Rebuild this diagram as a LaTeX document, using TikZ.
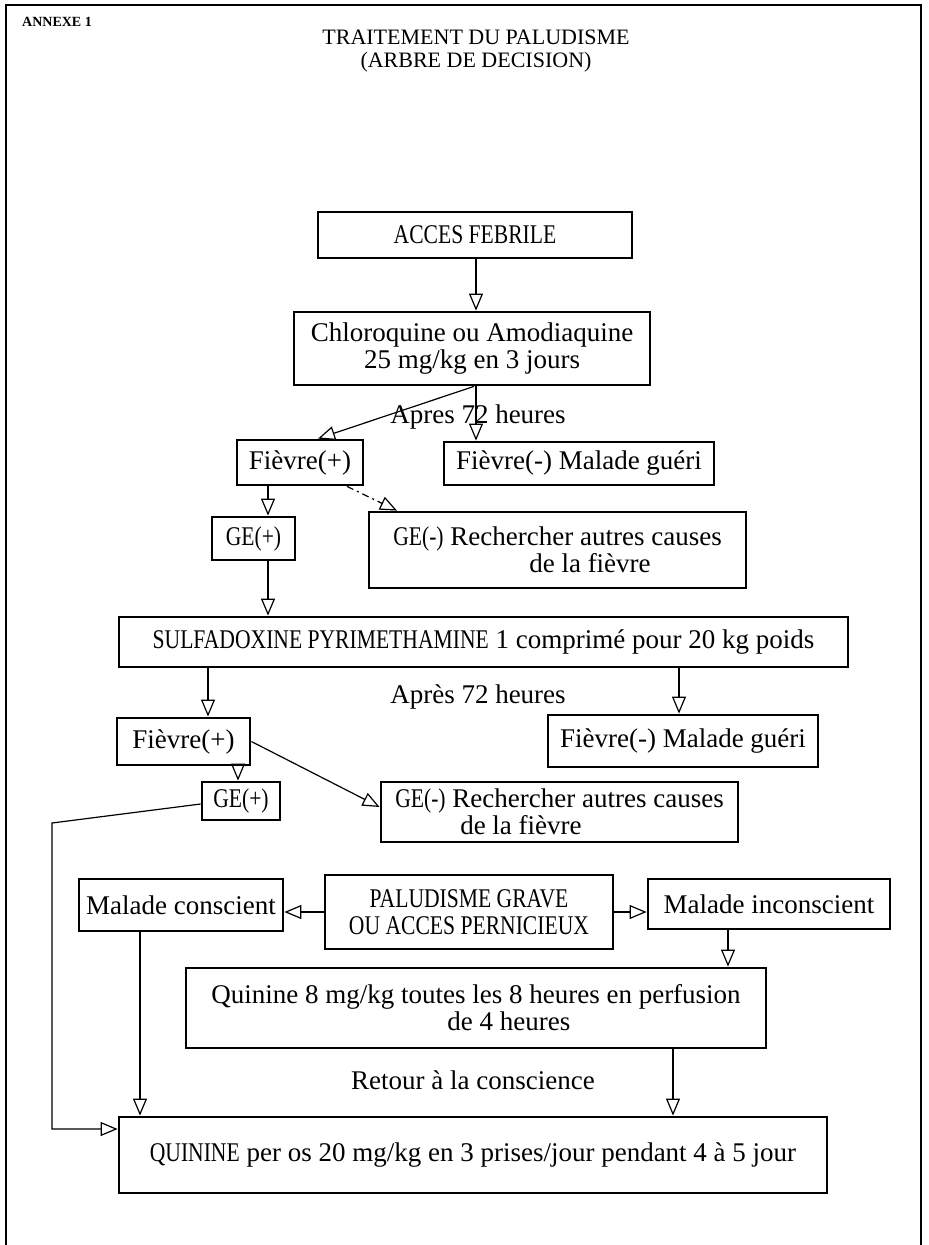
\documentclass[tikz,border=0pt]{standalone}
\usepackage{fontspec}
\setmainfont{Liberation Serif}
\newfontfamily\capsf{Liberation Serif}[FakeStretch=0.8]
\usetikzlibrary{arrows.meta,calc}
\begin{document}
\begin{tikzpicture}[x=1pt,y=-1pt,
  box/.style={draw, line width=2.8pt, inner sep=0pt, align=center,
    font=\fontsize{27}{27}\selectfont},
  lbl/.style={inner sep=0pt, font=\fontsize{27}{27}\selectfont},
  arr/.style={line width=1.2pt, -{Triangle[open, length=17pt, width=14pt, line width=1.2pt]}},
  conn/.style={line width=1.2pt}
]
\useasboundingbox[fill=white] (0,0) rectangle (929,1245);
% frame
\draw[line width=2pt] (6,1245) -- (6,5) -- (921,5) -- (921,1245);
\node[anchor=west, inner sep=0pt, font=\fontsize{14}{16}\selectfont\bfseries] (annexe) at (22,22) {ANNEXE 1};
\node[align=center, inner sep=0pt, font=\fontsize{22}{23}\selectfont] (title) at (476,51) {TRAITEMENT DU PALUDISME\\(ARBRE DE DECISION)};

% boxes
\node[box, minimum width=314, minimum height=46] (acc) at (475,235) {\capsf ACCES FEBRILE};
\node[box, minimum width=356, minimum height=73] (chl) at (472,348.5) {Chloroquine ou Amodiaquine\\25 mg/kg en 3 jours};
\node[box, minimum width=126, minimum height=45] (fp1) at (300,462.5) {Fièvre(+)};
\node[box, minimum width=270, minimum height=43] (fm1) at (579,463.5) {Fièvre(-) Malade guéri};
\node[box, minimum width=83, minimum height=43] (gp1) at (253.5,538.5) {\capsf GE(+)};
\node[box, align=left, minimum width=377, minimum height=76] (gm1) at (557.5,550) {{\capsf GE(-)} Rechercher autres causes\\\hspace*{136pt}de la fièvre};
\node[box, minimum width=729, minimum height=50] (sul) at (483.5,642) {{\capsf SULFADOXINE PYRIMETHAMINE} 1 comprimé pour 20 kg poids};
\node[box, minimum width=133, minimum height=47] (fp2) at (183.5,741.5) {Fièvre(+)};
\node[box, minimum width=270, minimum height=52] (fm2) at (683,741) {Fièvre(-) Malade guéri};
\node[box, minimum width=78, minimum height=38] (gp2) at (241,801) {\capsf GE(+)};
\node[box, align=left, minimum width=357, minimum height=60] (gm2) at (559.5,812) {{\capsf GE(-)} Rechercher autres causes\\\hspace*{65pt}de la fièvre};
\node[box, minimum width=204, minimum height=52] (mc) at (181,905) {Malade conscient};
\node[box, minimum width=288, minimum height=74] (pal) at (469,912) {{\capsf PALUDISME GRAVE}\\{\capsf OU ACCES PERNICIEUX}};
\node[box, minimum width=242, minimum height=50] (mi) at (769,904) {Malade inconscient};
\node[box, align=left, minimum width=580, minimum height=80] (q8) at (476,1008) {Quinine 8 mg/kg toutes les 8 heures en perfusion\\\hspace*{236pt}de 4 heures};
\node[box, minimum width=708, minimum height=76] (qui) at (473,1155) {{\capsf QUININE} per os 20 mg/kg en 3 prises/jour pendant 4 à 5 jour};

% labels
\node[lbl] (ap1) at (478,417) {Apres 72 heures};
\node[lbl] (ap2) at (478,697) {Après 72 heures};
\node[lbl] (ret) at (473,1080) {Retour à la conscience};

% connectors
\draw[arr] (acc.south -| 476,0) -- (chl.north -| 476,0);
\draw[arr] (chl.south -| 476,0) -- (fm1.north -| 476,0);
\draw[arr] (chl.south -| 474,0) -- (fp1.north -| 318,0);
\draw[arr] (fp1.south -| 268,0) -- (gp1.north -| 268,0);
\draw[arr, dash pattern=on 7pt off 4pt on 2pt off 4pt] (fp1.south -| 347,0) -- (gm1.north -| 397,0);
\draw[arr] (gp1.south -| 268,0) -- (sul.north -| 268,0);
\draw[arr] (sul.south -| 208,0) -- (fp2.north -| 208,0);
\draw[arr] (sul.south -| 679,0) -- (fm2.north -| 679,0);
\draw[arr] (fp2.south -| 238,0) -- (gp2.north -| 238,0);
\draw[arr] (fp2.east) -- ([yshift=5pt]gm2.west);
\coordinate (bendL) at (52,823);
\draw[arr] ([yshift=-3pt]gp2.west) -- (bendL) |- ([yshift=26pt]qui.west);
\draw[arr] (pal.west) -- (pal.west -| mc.east);
\draw[arr] (pal.east) -- (pal.east -| mi.west);
\draw[arr] (mi.south -| 728,0) -- (q8.north -| 728,0);
\draw[arr] (mc.south -| 140,0) -- (qui.north -| 140,0);
\draw[arr] (q8.south -| 673,0) -- (qui.north -| 673,0);
\end{tikzpicture}
\end{document}
